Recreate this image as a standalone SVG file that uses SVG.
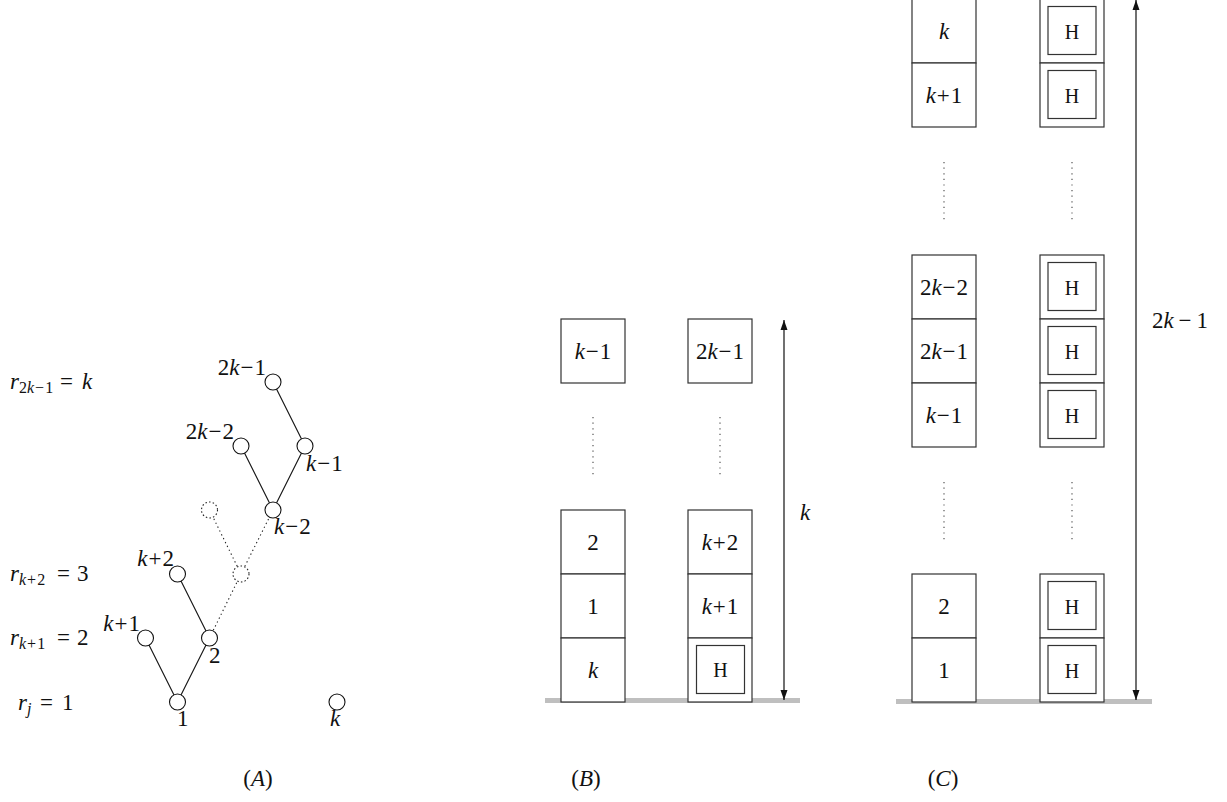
<svg xmlns="http://www.w3.org/2000/svg" width="1227" height="802" viewBox="0 0 1227 802">
<defs>
<marker id="ah" viewBox="0 0 10 10" refX="10" refY="5" markerWidth="10" markerHeight="10" markerUnits="userSpaceOnUse" orient="auto-start-reverse">
<path d="M0,1.5 L10,5 L0,8.5 Z" fill="#111"/>
</marker>
<style>
text{font-family:"Liberation Serif","Times New Roman",serif;font-size:23px;fill:#111}
.it{font-style:italic}
.sub{font-size:16px}
.h{font-size:20px}
.box{fill:#fff;stroke:#333;stroke-width:1.2}
.inner{fill:none;stroke:#333;stroke-width:1.2}
.dots{stroke:#555;stroke-width:1.2;stroke-dasharray:1.2 4.4;fill:none}
.edge{stroke:#111;stroke-width:1.1;fill:none}
.dedge{stroke:#222;stroke-width:1.1;stroke-dasharray:1.3 3;fill:none}
.node{fill:#fff;stroke:#111;stroke-width:1.1}
.dnode{fill:#fff;stroke:#222;stroke-width:1.1;stroke-dasharray:1.5 2.2}
.ground{fill:#bfbfbf}
.arrow{stroke:#111;stroke-width:1.2;fill:none}
.mid{text-anchor:middle}
.end{text-anchor:end}
</style>
</defs>

<!-- Part A: labels of rows -->
<g id="rowlabels">
<text x="10" y="389" class="it">r</text><text x="19" y="393" class="sub">2<tspan class="it">k</tspan><tspan dx="1">−</tspan><tspan dx="1">1</tspan></text><text x="60" y="389">=</text><text x="82" y="389" class="it">k</text>
<text x="10" y="581" class="it">r</text><text x="19" y="585" class="sub"><tspan class="it">k</tspan><tspan dx="1">+</tspan><tspan dx="1">2</tspan></text><text x="57" y="581">=</text><text x="77" y="581">3</text>
<text x="10" y="645" class="it">r</text><text x="19" y="649" class="sub"><tspan class="it">k</tspan><tspan dx="1">+</tspan><tspan dx="1">1</tspan></text><text x="57" y="645">=</text><text x="77" y="645">2</text>
<text x="18" y="710" class="it">r</text><text x="27" y="714" class="sub it">j</text><text x="40" y="710">=</text><text x="62" y="710">1</text>
</g>

<!-- Part A: tree connectors -->
<g id="tree-edges">
<line class="edge" x1="177.5" y1="702" x2="145.5" y2="638"/>
<line class="edge" x1="177.5" y1="702" x2="209.5" y2="638"/>
<line class="edge" x1="209.5" y1="638" x2="177.5" y2="574"/>
<line class="dedge" x1="209.5" y1="638" x2="241" y2="574"/>
<line class="dedge" x1="241" y1="574" x2="209.5" y2="510"/>
<line class="dedge" x1="241" y1="574" x2="273" y2="510"/>
<line class="edge" x1="273" y1="510" x2="241" y2="446"/>
<line class="edge" x1="273" y1="510" x2="305" y2="446"/>
<line class="edge" x1="305" y1="446" x2="273" y2="382"/>
</g>

<!-- Part A: tree nodes -->
<g id="n-1"><circle class="node" cx="177.5" cy="702" r="8"/><text x="177" y="726">1</text></g>
<g id="n-k"><circle class="node" cx="337" cy="702" r="8"/><text x="330" y="726" class="it">k</text></g>
<g id="n-k1"><circle class="node" cx="145.5" cy="638" r="8"/><text x="140" y="631" class="end"><tspan class="it">k</tspan><tspan dx="1">+</tspan><tspan dx="1">1</tspan></text></g>
<g id="n-2"><circle class="node" cx="209.5" cy="638" r="8"/><text x="209" y="663">2</text></g>
<g id="n-k2"><circle class="node" cx="177.5" cy="574" r="8"/><text x="174" y="566" class="end"><tspan class="it">k</tspan><tspan dx="1">+</tspan><tspan dx="1">2</tspan></text></g>
<g id="n-d1"><circle class="dnode" cx="241" cy="574" r="8"/></g>
<g id="n-d2"><circle class="dnode" cx="209.5" cy="510" r="8"/></g>
<g id="n-km2"><circle class="node" cx="273" cy="510" r="8"/><text x="274" y="534"><tspan class="it">k</tspan><tspan dx="1">−</tspan><tspan dx="1">2</tspan></text></g>
<g id="n-2km2"><circle class="node" cx="241" cy="446" r="8"/><text x="234" y="439" class="end">2<tspan class="it">k</tspan><tspan dx="1">−</tspan><tspan dx="1">2</tspan></text></g>
<g id="n-km1"><circle class="node" cx="305" cy="446" r="8"/><text x="306" y="471"><tspan class="it">k</tspan><tspan dx="1">−</tspan><tspan dx="1">1</tspan></text></g>
<g id="n-2km1"><circle class="node" cx="273" cy="382" r="8"/><text x="266" y="375" class="end">2<tspan class="it">k</tspan><tspan dx="1">−</tspan><tspan dx="1">1</tspan></text></g>

<!-- Part B -->
<g id="B-ground"><rect class="ground" x="545" y="698" width="255" height="5"/></g>
<g id="B-L-km1"><rect class="box" x="561" y="319" width="64" height="64"/><text x="593" y="359" class="mid"><tspan class="it">k</tspan><tspan dx="1">−</tspan><tspan dx="1">1</tspan></text></g>
<g id="B-L-dots"><line class="dots" x1="593" y1="417" x2="593" y2="478"/></g>
<g id="B-L-2"><rect class="box" x="561" y="510" width="64" height="64"/><text x="593" y="550" class="mid">2</text></g>
<g id="B-L-1"><rect class="box" x="561" y="574" width="64" height="64"/><text x="593" y="614" class="mid">1</text></g>
<g id="B-L-k"><rect class="box" x="561" y="638" width="64" height="64"/><text x="593" y="678" class="mid it">k</text></g>
<g id="B-R-2km1"><rect class="box" x="688" y="319" width="64" height="64"/><text x="720" y="359" class="mid">2<tspan class="it">k</tspan><tspan dx="1">−</tspan><tspan dx="1">1</tspan></text></g>
<g id="B-R-dots"><line class="dots" x1="720" y1="417" x2="720" y2="478"/></g>
<g id="B-R-k2"><rect class="box" x="688" y="510" width="64" height="64"/><text x="720" y="550" class="mid"><tspan class="it">k</tspan><tspan dx="1">+</tspan><tspan dx="1">2</tspan></text></g>
<g id="B-R-k1"><rect class="box" x="688" y="574" width="64" height="64"/><text x="720" y="614" class="mid"><tspan class="it">k</tspan><tspan dx="1">+</tspan><tspan dx="1">1</tspan></text></g>
<g id="B-R-H"><rect class="box" x="688" y="638" width="64" height="64"/><rect class="inner" x="696.5" y="645.5" width="48" height="48"/><text x="720.5" y="676.5" class="mid h">H</text></g>
<g id="B-dim"><line class="arrow" x1="784" y1="320" x2="784" y2="700" marker-start="url(#ah)" marker-end="url(#ah)"/><text x="805" y="520" class="mid it">k</text></g>

<!-- Part C -->
<g id="C-ground"><rect class="ground" x="896" y="699" width="256" height="5"/></g>
<g id="C-L-k"><rect class="box" x="912" y="-1" width="64" height="64"/><text x="944" y="39" class="mid it">k</text></g>
<g id="C-L-k1"><rect class="box" x="912" y="63" width="64" height="64"/><text x="944" y="103" class="mid"><tspan class="it">k</tspan><tspan dx="1">+</tspan><tspan dx="1">1</tspan></text></g>
<g id="C-L-dots1"><line class="dots" x1="944" y1="162" x2="944" y2="222"/></g>
<g id="C-L-2km2"><rect class="box" x="912" y="255" width="64" height="64"/><text x="944" y="295" class="mid">2<tspan class="it">k</tspan><tspan dx="1">−</tspan><tspan dx="1">2</tspan></text></g>
<g id="C-L-2km1"><rect class="box" x="912" y="319" width="64" height="64"/><text x="944" y="359" class="mid">2<tspan class="it">k</tspan><tspan dx="1">−</tspan><tspan dx="1">1</tspan></text></g>
<g id="C-L-km1"><rect class="box" x="912" y="383" width="64" height="64"/><text x="944" y="423" class="mid"><tspan class="it">k</tspan><tspan dx="1">−</tspan><tspan dx="1">1</tspan></text></g>
<g id="C-L-dots2"><line class="dots" x1="944" y1="482" x2="944" y2="542"/></g>
<g id="C-L-2"><rect class="box" x="912" y="574" width="64" height="64"/><text x="944" y="614" class="mid">2</text></g>
<g id="C-L-1"><rect class="box" x="912" y="638" width="64" height="64"/><text x="944" y="678" class="mid">1</text></g>

<g id="C-R-H1"><rect class="box" x="1040" y="-1" width="64" height="64"/><rect class="inner" x="1048" y="6.5" width="48" height="48"/><text x="1072" y="38.5" class="mid h">H</text></g>
<g id="C-R-H2"><rect class="box" x="1040" y="63" width="64" height="64"/><rect class="inner" x="1048" y="70.5" width="48" height="48"/><text x="1072" y="102.5" class="mid h">H</text></g>
<g id="C-R-dots1"><line class="dots" x1="1072" y1="162" x2="1072" y2="222"/></g>
<g id="C-R-H3"><rect class="box" x="1040" y="255" width="64" height="64"/><rect class="inner" x="1048" y="262.5" width="48" height="48"/><text x="1072" y="294.5" class="mid h">H</text></g>
<g id="C-R-H4"><rect class="box" x="1040" y="319" width="64" height="64"/><rect class="inner" x="1048" y="326.5" width="48" height="48"/><text x="1072" y="358.5" class="mid h">H</text></g>
<g id="C-R-H5"><rect class="box" x="1040" y="383" width="64" height="64"/><rect class="inner" x="1048" y="390.5" width="48" height="48"/><text x="1072" y="422.5" class="mid h">H</text></g>
<g id="C-R-dots2"><line class="dots" x1="1072" y1="482" x2="1072" y2="542"/></g>
<g id="C-R-H6"><rect class="box" x="1040" y="574" width="64" height="64"/><rect class="inner" x="1048" y="581.5" width="48" height="48"/><text x="1072" y="613.5" class="mid h">H</text></g>
<g id="C-R-H7"><rect class="box" x="1040" y="638" width="64" height="64"/><rect class="inner" x="1048" y="645.5" width="48" height="48"/><text x="1072" y="677.5" class="mid h">H</text></g>
<g id="C-dim"><line class="arrow" x1="1136" y1="0" x2="1136" y2="700" marker-start="url(#ah)" marker-end="url(#ah)"/><text x="1180" y="328" class="mid">2<tspan class="it">k</tspan><tspan dx="5">−</tspan><tspan dx="5">1</tspan></text></g>

<!-- captions -->
<g id="captions">
<text x="258" y="786" class="mid">(<tspan class="it">A</tspan>)</text>
<text x="586" y="786" class="mid">(<tspan class="it">B</tspan>)</text>
<text x="943" y="786" class="mid">(<tspan class="it">C</tspan>)</text>
</g>
</svg>
